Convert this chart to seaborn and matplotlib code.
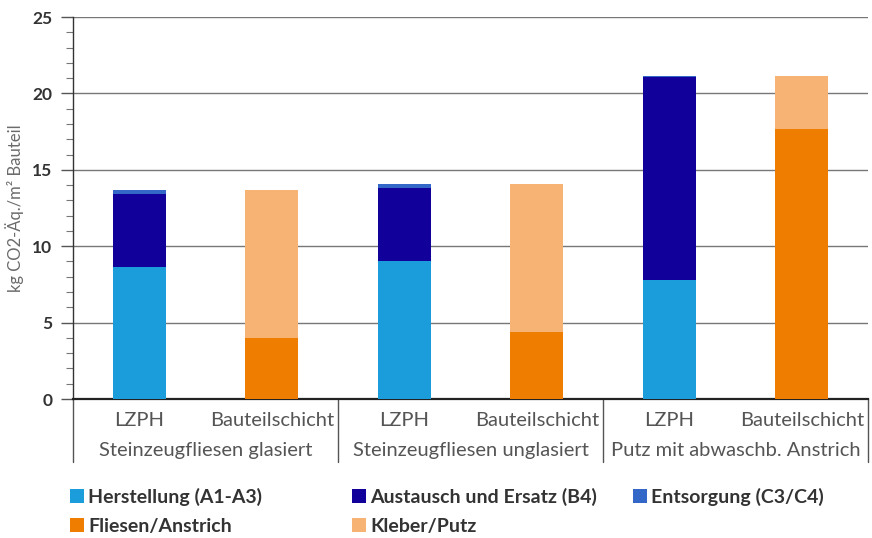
import numpy as np
import pandas as pd
import matplotlib
matplotlib.use("Agg")
import matplotlib.pyplot as plt
from matplotlib.patches import Patch
import seaborn as sns

# Bar labels and groups
bar_labels = ["LZPH", "Bauteilschicht", "LZPH", "Bauteilschicht", "LZPH", "Bauteilschicht"]
groups = ["Steinzeugfliesen glasiert", "Steinzeugfliesen unglasiert", "Putz mit abwaschb. Anstrich"]

# Stack components (kg CO2-Äq./m² Bauteil)
herstellung = [8.65, 0.0, 9.03, 0.0, 7.80, 0.0]
austausch = [4.75, 0.0, 4.80, 0.0, 13.30, 0.0]
entsorgung = [0.28, 0.0, 0.24, 0.0, 0.02, 0.0]
fliesen = [0.0, 4.02, 0.0, 4.40, 0.0, 17.68]
kleber = [0.0, 9.66, 0.0, 9.67, 0.0, 3.44]

series_names = ["Herstellung (A1-A3)", "Austausch und Ersatz (B4)", "Entsorgung (C3/C4)",
                "Fliesen/Anstrich", "Kleber/Putz"]
series_values = [herstellung, austausch, entsorgung, fliesen, kleber]
colors = ["#1B9CDB", "#12009A", "#3368C8", "#EF7D00", "#F6B373"]

sns.set_theme(style="white")
plt.rcParams["font.family"] = ["Lato", "DejaVu Sans"]

fig = plt.figure(figsize=(8.72, 5.38), dpi=100)
ax = fig.add_axes([73 / 872, 139 / 538, 795 / 872, 382 / 538])

slots = [f"b{i}" for i in range(len(bar_labels))]
cum = np.cumsum(np.array(series_values), axis=0)

# Draw cumulative totals from the top layer down so each layer shows as a stack segment
for k in range(len(series_names) - 1, -1, -1):
    df = pd.DataFrame({"slot": slots, "value": cum[k]})
    sns.barplot(data=df, x="slot", y="value", order=slots, color=colors[k],
                saturation=1, width=0.4, ax=ax, zorder=3, edgecolor="none")

ax.set_xlim(-0.5, 5.5)
ax.set_ylim(0, 25)
ax.set_yticks(np.arange(0, 26, 5))
ax.set_yticks(np.arange(0, 26, 1), minor=True)
ax.yaxis.grid(True, which="major", color="#777777", linewidth=1.0, zorder=0)
ax.set_xticks([])
ax.set_xlabel("")
ax.set_ylabel("kg CO2-Äq./m² Bauteil", fontsize=12, color="#6b6b6b", labelpad=6)

for s in ["top", "right"]:
    ax.spines[s].set_visible(False)
ax.spines["left"].set_color("#333333")
ax.spines["left"].set_linewidth(1.0)
ax.spines["bottom"].set_color("#222222")
ax.spines["bottom"].set_linewidth(1.6)

ax.tick_params(axis="y", which="major", left=True, length=9, width=1, color="#555555",
               labelsize=12.5, labelcolor="#333333", pad=6)
ax.tick_params(axis="y", which="minor", left=True, length=5, width=0.8, color="#777777")
for lbl in ax.get_yticklabels():
    lbl.set_fontweight("bold")

trans = ax.get_xaxis_transform()
for i, lab in enumerate(bar_labels):
    ax.text(i, -0.055, lab, transform=trans, ha="center", va="center",
            fontsize=14.5, color="#555555")
for g, name in enumerate(groups):
    ax.text(2 * g + 0.5, -0.135, name, transform=trans, ha="center", va="center",
            fontsize=14.5, color="#555555")
for xsep in [-0.5, 1.5, 3.5, 5.5]:
    ax.plot([xsep, xsep], [0, -0.165], transform=trans, color="#555555",
            linewidth=1.0, clip_on=False)

# Legend in three fixed-position columns, rows read left to right
columns = [[0, 3], [1, 4], [2]]
col_x = [66, 348, 629]
for cols, x0 in zip(columns, col_x):
    handles = [Patch(facecolor=colors[i], edgecolor="none") for i in cols]
    labels = [series_names[i] for i in cols]
    leg = fig.legend(handles, labels, ncol=1, loc="upper left",
                     bbox_to_anchor=(x0 / 872, 1 - 484 / 538), frameon=False,
                     handlelength=0.75, handleheight=0.75, handletextpad=0.2,
                     labelspacing=0.62, borderaxespad=0.0, borderpad=0.2,
                     prop={"size": 14, "weight": "bold"})
    for t in leg.get_texts():
        t.set_color("#333333")

fig.savefig("out.png", dpi=100)
